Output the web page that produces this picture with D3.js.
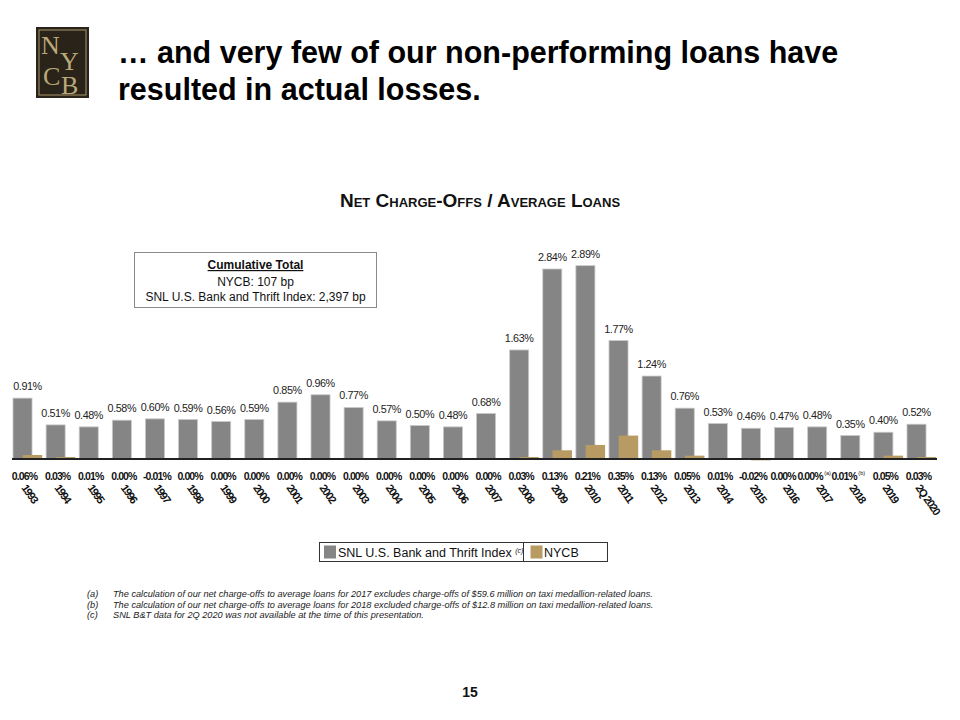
<!DOCTYPE html>
<html>
<head>
<meta charset="utf-8">
<script src="https://cdn.jsdelivr.net/npm/d3@7"></script>
<style>
  body { margin: 0; background: #fff; }
  svg { display: block; font-family: "Liberation Sans", Arial, sans-serif; }
</style>
</head>
<body>
<svg id="chart" width="960" height="720"></svg>
<script>
// categories and series
const years = ["1993", "1994", "1995", "1996", "1997", "1998", "1999", "2000", "2001", "2002",
  "2003", "2004", "2005", "2006", "2007", "2008", "2009", "2010", "2011", "2012",
  "2013", "2014", "2015", "2016", "2017", "2018", "2019", "2Q 2020"];
const snlValues = [0.91, 0.51, 0.48, 0.58, 0.60, 0.59, 0.56, 0.59, 0.85, 0.96,
  0.77, 0.57, 0.50, 0.48, 0.68, 1.63, 2.84, 2.89, 1.77, 1.24,
  0.76, 0.53, 0.46, 0.47, 0.48, 0.35, 0.40, 0.52];
const nycbValues = [0.06, 0.03, 0.01, 0.00, -0.01, 0.00, 0.00, 0.00, 0.00, 0.00,
  0.00, 0.00, 0.00, 0.00, 0.00, 0.03, 0.13, 0.21, 0.35, 0.13,
  0.05, 0.01, -0.02, 0.00, 0.00, 0.01, 0.05, 0.03];
const nycbNotes = { "2017": "(a)", "2018": "(b)" };
const footnotes = [
  ["(a)", "The calculation of our net charge-offs to average loans for 2017 excludes charge-offs of $59.6 million on taxi medallion-related loans."],
  ["(b)", "The calculation of our net charge-offs to average loans for 2018 excluded charge-offs of $12.8 million on taxi medallion-related loans."],
  ["(c)", "SNL B&T data for 2Q 2020 was not available at the time of this presentation."]
];

const GRAY = "#858585";
const GOLD = "#b89b62";

const svg = d3.select("#chart");
const fmt = v => v.toFixed(2) + "%";

// --- logo
const logo = svg.append("g").attr("transform", "translate(36,27)");
logo.append("rect").attr("width", 53).attr("height", 71).attr("fill", "#2a2319");
logo.append("rect").attr("x", 3).attr("y", 3).attr("width", 47).attr("height", 65)
  .attr("fill", "none").attr("stroke", "#a8976b").attr("stroke-width", 1);
[["N", 5, 27], ["Y", 24, 43], ["C", 7, 58], ["B", 25, 67]].forEach(([ch, x, y]) => {
  logo.append("text").attr("x", x).attr("y", y).text(ch)
    .attr("font-family", "'Liberation Serif', 'DejaVu Serif', serif")
    .attr("font-size", 26).attr("fill", "#b9a878");
});

// --- slide title
svg.append("text").attr("x", 118).attr("y", 63)
  .attr("font-size", 30.5).attr("font-weight", "bold").attr("fill", "#000")
  .text("… and very few of our non-performing loans have");
svg.append("text").attr("x", 118).attr("y", 100)
  .attr("font-size", 30.5).attr("font-weight", "bold").attr("fill", "#000")
  .text("resulted in actual losses.");

// --- chart title
svg.append("text").attr("x", 480).attr("y", 207).attr("text-anchor", "middle")
  .attr("font-size", 19).attr("font-weight", "bold").attr("fill", "#111")
  .style("font-variant", "small-caps")
  .text("Net Charge-Offs / Average Loans");

// --- scales
const x = d3.scaleBand().domain(years).range([13, 936.5]).paddingInner(0.109).paddingOuter(0);
const y = d3.scaleLinear().domain([0, 3]).range([459, 459 - 200.7]);
const bw = x.bandwidth();
const grayW = bw * 0.645, goldOff = bw * 0.33, goldW = bw * 0.66;

const rows = years.map((yr, i) => ({ yr, snl: snlValues[i], nycb: nycbValues[i] }));

// gray bars
svg.append("g").selectAll("rect").data(rows).join("rect")
  .attr("x", d => x(d.yr))
  .attr("y", d => y(Math.max(0, d.snl)))
  .attr("width", grayW)
  .attr("height", d => Math.abs(y(d.snl) - y(0)))
  .attr("fill", GRAY).attr("stroke", "#c9c9c9").attr("stroke-width", 0.8);

// gold bars drawn over
svg.append("g").selectAll("rect").data(rows).join("rect")
  .attr("x", d => x(d.yr) + goldOff)
  .attr("y", d => y(Math.max(0, d.nycb)))
  .attr("width", goldW)
  .attr("height", d => Math.abs(y(d.nycb) - y(0)))
  .attr("fill", GOLD);

// gray value labels
svg.append("g").selectAll("text").data(rows).join("text")
  .attr("x", (d, i) => x(d.yr) + grayW / 2 + (i === 0 ? 5 : 0))
  .attr("y", d => y(d.snl) - 8)
  .attr("text-anchor", "middle").attr("font-size", 10.8).attr("fill", "#222")
  .attr("letter-spacing", -0.4)
  .text(d => fmt(d.snl));

// axis with rotated year labels
const axis = svg.append("g").attr("transform", "translate(0,459)")
  .call(d3.axisBottom(x).tickSize(0).tickSizeOuter(0));
axis.select(".domain").attr("stroke", "#222").attr("stroke-width", 2.2)
  .attr("d", "M12,0H937");
axis.selectAll(".tick text")
  .attr("x", 0).attr("y", 0).attr("dy", "0.75em")
  .attr("transform", "translate(0,24) rotate(55)")
  .attr("text-anchor", "start")
  .attr("font-family", "'Liberation Sans', Arial, sans-serif")
  .attr("font-size", 11).attr("font-weight", "bold").attr("fill", "#111")
  .attr("letter-spacing", -1.2);

// NYCB value labels under the axis (the noted years sit a little left, as on the slide)
const labelShift = { "2016": -1, "2017": -3, "2018": -2 };
const nl = svg.append("g").selectAll("text").data(rows).join("text")
  .attr("x", d => x(d.yr) + grayW / 2 + (labelShift[d.yr] ?? 2))
  .attr("y", 480)
  .attr("text-anchor", "middle").attr("font-size", 10.5).attr("font-weight", "bold")
  .attr("fill", "#111").attr("letter-spacing", -0.9);
nl.append("tspan").text(d => fmt(d.nycb));
nl.filter(d => nycbNotes[d.yr]).append("tspan")
  .attr("dx", 1.5).attr("dy", -5).attr("font-size", 5.5).attr("font-weight", "normal")
  .attr("letter-spacing", 0)
  .text(d => nycbNotes[d.yr]);

// --- cumulative total box
const box = svg.append("g");
box.append("rect").attr("x", 134.5).attr("y", 252.5).attr("width", 242).attr("height", 55)
  .attr("fill", "#fff").attr("stroke", "#8a8a8a");
box.append("text").attr("x", 255.5).attr("y", 269).attr("text-anchor", "middle")
  .attr("font-size", 12).attr("font-weight", "bold").attr("text-decoration", "underline")
  .attr("fill", "#111").text("Cumulative Total");
box.append("text").attr("x", 255.5).attr("y", 285.5).attr("text-anchor", "middle")
  .attr("font-size", 12).attr("fill", "#111").text("NYCB: 107 bp");
box.append("text").attr("x", 255.5).attr("y", 300.5).attr("text-anchor", "middle")
  .attr("font-size", 12).attr("fill", "#111").text("SNL U.S. Bank and Thrift Index: 2,397 bp");

// --- legend
const lg = svg.append("g");
lg.append("rect").attr("x", 319.5).attr("y", 542.5).attr("width", 288).attr("height", 19)
  .attr("fill", "#fff").attr("stroke", "#333");
lg.append("line").attr("x1", 523.5).attr("x2", 523.5).attr("y1", 542.5).attr("y2", 561.5)
  .attr("stroke", "#333");
lg.append("rect").attr("x", 324).attr("y", 545.5).attr("width", 12).attr("height", 13).attr("fill", GRAY);
const lt = lg.append("text").attr("x", 338).attr("y", 557).attr("font-size", 12.5).attr("fill", "#111");
lt.append("tspan").text("SNL U.S. Bank and Thrift Index ");
lt.append("tspan").attr("font-size", 7).attr("font-style", "italic").attr("dy", -4).text("(c)");
lg.append("rect").attr("x", 530.5).attr("y", 545.5).attr("width", 12).attr("height", 13).attr("fill", GOLD);
lg.append("text").attr("x", 544).attr("y", 557).attr("font-size", 12.5).attr("fill", "#111").text("NYCB");

// --- footnotes
const fn = svg.append("g").attr("font-size", 9.2).attr("font-style", "italic").attr("fill", "#222");
footnotes.forEach(([tag, txt], i) => {
  fn.append("text").attr("x", 87).attr("y", 597 + i * 10.5).text(tag);
  fn.append("text").attr("x", 113).attr("y", 597 + i * 10.5).text(txt);
});

// --- page number
svg.append("text").attr("x", 470).attr("y", 697).attr("text-anchor", "middle")
  .attr("font-size", 14).attr("font-weight", "bold").attr("fill", "#111").text("15");
</script>
</body>
</html>
